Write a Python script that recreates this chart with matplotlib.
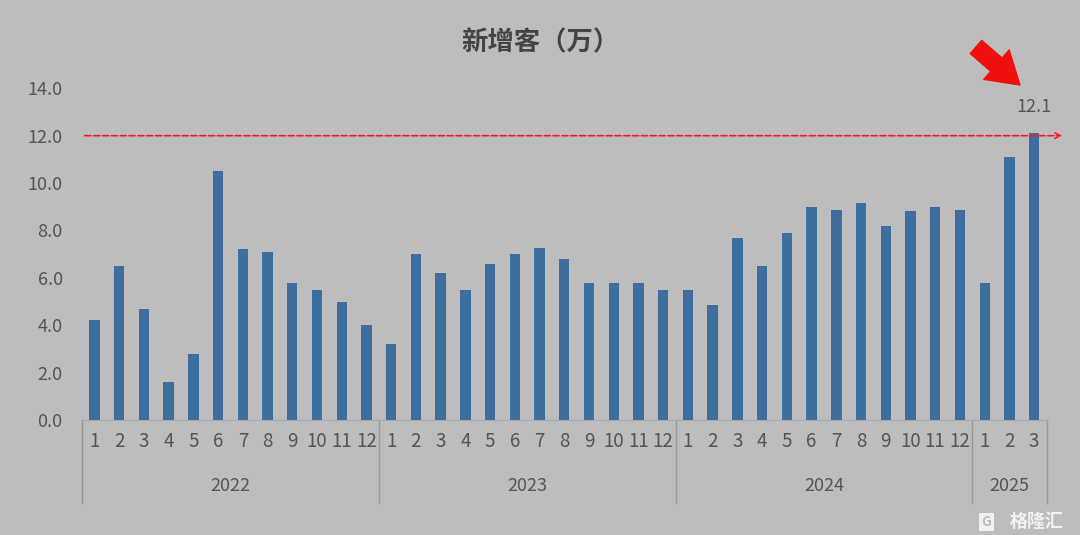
import numpy as np
import matplotlib.pyplot as plt

plt.rcParams['font.family'] = ['Noto Sans CJK SC', 'DejaVu Sans']

years = ['2022', '2023', '2024', '2025']
months_per_year = [12, 12, 12, 3]
new_clients = [
    4.2, 6.5, 4.7, 1.6, 2.8, 10.5, 7.2, 7.1, 5.8, 5.5, 5.0, 4.0,   # 2022
    3.2, 7.0, 6.2, 5.5, 6.6, 7.0, 7.25, 6.8, 5.8, 5.8, 5.8, 5.5,   # 2023
    5.5, 4.85, 7.7, 6.5, 7.9, 9.0, 8.85, 9.15, 8.2, 8.8, 9.0, 8.85,  # 2024
    5.8, 11.1, 12.1,                                              # 2025
]
month_labels = [str(m + 1) for n in months_per_year for m in range(n)]

bg = '#bdbdbd'
txt = '#555555'
fig = plt.figure(figsize=(10.8, 5.35), dpi=100, facecolor=bg)
ax = fig.add_axes([0.076, 0.215, 0.893, 0.62])
ax.set_facecolor(bg)

x = np.arange(len(new_clients))
ax.bar(x, new_clients, width=0.42, color='#3d6e9e')

ax.set_xlim(-0.5, len(new_clients) - 0.5)
ax.set_ylim(0, 14)
ax.set_yticks(np.arange(0, 15, 2))
ax.set_yticklabels([f'{v:.1f}' for v in np.arange(0, 15, 2)], color=txt, fontsize=13)
ax.set_xticks(x)
ax.set_xticklabels(month_labels, color=txt, fontsize=13.5)
ax.tick_params(axis='both', length=0, pad=8)
ax.tick_params(axis='y', pad=14)
for s in ['top', 'right', 'left']:
    ax.spines[s].set_visible(False)
ax.spines['bottom'].set_color('#a8a8a8')

# year groups below the axis
trans = ax.get_xaxis_transform()
edges = np.concatenate([[0], np.cumsum(months_per_year)]) - 0.5
for e in edges:
    ax.plot([e, e], [0, -0.25], transform=trans, color='#999999', lw=1, clip_on=False)
for i, yr in enumerate(years):
    ax.text((edges[i] + edges[i + 1]) / 2, -0.2, yr, transform=trans,
            ha='center', va='center', color=txt, fontsize=13)

# red dashed reference line at 12
ax.annotate('', xy=(39.25, 12), xytext=(-0.5, 12), xycoords='data',
            arrowprops=dict(arrowstyle='->', color='#ee2020', lw=1.2, ls='--'),
            annotation_clip=False)
ax.text(x[-1], 12.85, '12.1', ha='center', va='bottom', color=txt, fontsize=13)

# big red arrow pointing at the last bar
fig.add_artist(plt.matplotlib.patches.FancyArrowPatch(
    (976, 488), (1020, 450), transform=None,
    arrowstyle='simple,head_length=1.6,head_width=2.0,tail_width=0.9',
    mutation_scale=14, color='#f01010', shrinkA=0, shrinkB=0))

fig.text(0.5, 0.92, '新增客（万）', ha='center', va='center', color='#444444',
         fontsize=19, fontweight='bold')
fig.text(0.985, 0.025, '格隆汇', ha='right', va='center', color='#f2f2f2',
         fontsize=13, fontweight='bold')
fig.text(0.918, 0.025, 'G', ha='right', va='center', color='#bdbdbd',
         fontsize=10, fontweight='bold',
         bbox=dict(boxstyle='square,pad=0.15', fc='#f2f2f2', ec='none'))

fig.savefig('out.png', dpi=100, facecolor=bg)
